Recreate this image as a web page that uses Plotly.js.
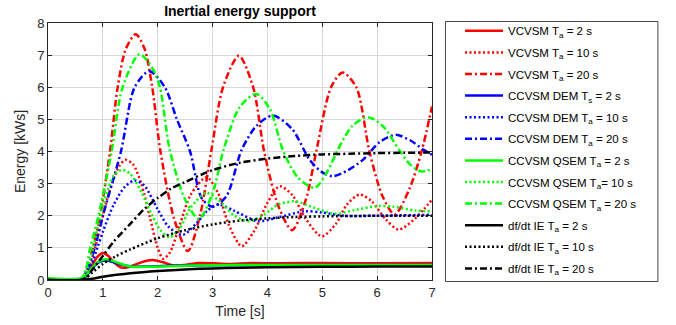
<!DOCTYPE html>
<html>
<head>
<meta charset="utf-8">
<script src="https://cdn.plot.ly/plotly-3.0.1.min.js"></script>
<style>html,body{margin:0;padding:0;background:#fff;}#chart{width:676px;height:325px;}</style>
</head>
<body>
<div id="chart"></div>
<script>
// ---- data (time in s, energy in kWs) ----
const vc2_t  = [0, 0.6, 0.7, 0.8, 0.9, 1.0, 1.1, 1.2, 1.35, 1.5, 1.7, 1.9, 2.1, 2.3, 2.5, 2.75, 3.0, 3.3, 3.7, 4.2, 5, 6, 7];
const vc2_e  = [0.02, 0.02, 0.15, 0.45, 0.72, 0.84, 0.75, 0.55, 0.38, 0.42, 0.55, 0.62, 0.55, 0.45, 0.47, 0.53, 0.52, 0.5, 0.53, 0.52, 0.53, 0.52, 0.53];
const vc10_t = [0, 0.6, 0.7, 0.8, 0.9, 1.0, 1.1, 1.2, 1.3, 1.41, 1.55, 1.7, 1.85, 2.0, 2.1, 2.22, 2.4, 2.6, 2.89, 3.1, 3.3, 3.53, 3.75, 4.0, 4.22, 4.45, 4.7, 4.99, 5.25, 5.45, 5.68, 5.9, 6.15, 6.39, 6.65, 6.85, 7.0];
const vc10_e = [0.03, 0.03, 0.2, 0.65, 1.3, 2.0, 2.65, 3.15, 3.55, 3.74, 3.6, 3.0, 2.0, 1.0, 0.66, 0.85, 1.7, 2.65, 3.2, 2.7, 1.7, 1.05, 1.5, 2.4, 2.92, 2.65, 1.9, 1.36, 1.75, 2.35, 2.66, 2.45, 1.9, 1.57, 1.85, 2.2, 2.5];
const vc20_t = [0, 0.6, 0.7, 0.82, 0.95, 1.13, 1.27, 1.42, 1.6, 1.76, 1.9, 2.05, 2.3, 2.55, 2.77, 2.98, 3.19, 3.48, 3.74, 3.94, 4.2, 4.45, 4.7, 4.89, 5.16, 5.37, 5.62, 5.86, 6.1, 6.32, 6.58, 6.81, 7.0];
const vc20_e = [0.02, 0.02, 0.3, 1.0, 2.0, 4.0, 6.0, 7.2, 7.65, 7.2, 6.0, 4.0, 1.9, 0.9, 2.0, 4.05, 6.0, 6.98, 6.0, 4.0, 2.3, 1.55, 2.5, 4.0, 6.0, 6.46, 6.0, 4.0, 2.6, 2.04, 2.8, 4.0, 5.4];

const de2_t  = [0, 0.6, 0.7, 0.8, 0.9, 1.0, 1.1, 1.25, 1.5, 1.8, 2.2, 3, 4, 5, 7];
const de2_e  = [0.02, 0.02, 0.12, 0.35, 0.52, 0.6, 0.6, 0.52, 0.42, 0.42, 0.44, 0.46, 0.47, 0.47, 0.47];
const de10_t = [0, 0.6, 0.7, 0.8, 0.9, 1.0, 1.2, 1.4, 1.58, 1.75, 2.0, 2.2, 2.45, 2.7, 2.9, 3.1, 3.4, 3.83, 4.2, 4.68, 5.0, 5.4, 6, 7];
const de10_e = [0.02, 0.02, 0.15, 0.5, 1.0, 1.5, 2.35, 2.9, 3.1, 2.95, 2.2, 1.65, 1.4, 1.75, 2.15, 2.35, 2.15, 1.83, 1.95, 2.14, 2.1, 2.0, 2.0, 2.03];
const de20_t = [0, 0.6, 0.7, 0.85, 1.0, 1.33, 1.58, 1.85, 2.13, 2.35, 2.59, 2.8, 3.0, 3.25, 3.53, 3.8, 4.1, 4.45, 4.77, 5.0, 5.19, 5.45, 5.74, 6.05, 6.34, 6.6, 6.85, 7.0];
const de20_e = [0.02, 0.02, 0.25, 1.0, 2.0, 4.0, 6.0, 6.5, 6.0, 5.0, 4.0, 2.55, 2.28, 2.6, 4.05, 4.8, 5.12, 4.7, 3.74, 3.35, 3.23, 3.4, 3.74, 4.3, 4.52, 4.35, 4.05, 3.9];

const qs2_t  = [0, 0.6, 0.7, 0.8, 0.9, 1.0, 1.1, 1.25, 1.5, 1.8, 2.2, 3, 4, 5, 7];
const qs2_e  = [0.05, 0.05, 0.15, 0.38, 0.55, 0.63, 0.64, 0.55, 0.42, 0.41, 0.43, 0.46, 0.47, 0.47, 0.47];
const qs10_t = [0, 0.6, 0.7, 0.8, 0.9, 1.0, 1.1, 1.2, 1.35, 1.5, 1.7, 1.9, 2.05, 2.22, 2.4, 2.6, 2.88, 3.1, 3.4, 3.68, 3.95, 4.2, 4.5, 4.85, 5.22, 5.6, 6.0, 6.3, 6.7, 7.0];
const qs10_e = [0.06, 0.06, 0.3, 0.85, 1.6, 2.3, 2.85, 3.25, 3.43, 3.3, 2.75, 2.0, 1.55, 1.33, 1.6, 2.25, 2.71, 2.5, 2.0, 1.83, 2.05, 2.35, 2.45, 2.25, 2.06, 2.18, 2.3, 2.28, 2.16, 2.14];
const qs20_t = [0, 0.6, 0.7, 0.77, 0.92, 1.16, 1.36, 1.67, 1.9, 2.04, 2.22, 2.5, 2.75, 3.0, 3.2, 3.5, 3.8, 4.05, 4.28, 4.55, 4.86, 5.1, 5.28, 5.55, 5.83, 6.1, 6.4, 6.6, 6.8, 7.0];
const qs20_e = [0.05, 0.05, 0.4, 1.0, 2.0, 4.0, 6.0, 7.03, 6.6, 6.0, 4.05, 2.5, 1.9, 2.7, 4.05, 5.4, 5.79, 5.3, 4.05, 3.2, 2.87, 3.4, 4.05, 4.8, 5.07, 4.8, 4.05, 3.6, 3.38, 3.45];

const ie2_t  = [0, 0.6, 0.8, 1.0, 1.25, 1.5, 2, 2.5, 3, 3.5, 4, 5, 6, 7];
const ie2_e  = [0, 0, 0.04, 0.1, 0.16, 0.21, 0.28, 0.33, 0.36, 0.38, 0.4, 0.41, 0.42, 0.42];
const ie10_t = [0, 0.6, 0.7, 0.8, 1.0, 1.25, 1.5, 2.0, 2.5, 3, 3.5, 4, 4.5, 5, 6, 7];
const ie10_e = [0, 0, 0.08, 0.22, 0.5, 0.75, 0.95, 1.3, 1.55, 1.73, 1.85, 1.92, 1.96, 1.98, 2.0, 2.0];
const ie20_t = [0, 0.6, 0.7, 0.8, 1.0, 1.2, 1.5, 1.75, 2.0, 2.25, 2.5, 3.0, 3.5, 4, 4.5, 5, 5.5, 6, 6.5, 7];
const ie20_e = [0, 0, 0.08, 0.3, 0.75, 1.2, 1.75, 2.2, 2.55, 2.85, 3.05, 3.42, 3.65, 3.78, 3.86, 3.91, 3.93, 3.95, 3.96, 3.97];

const xTicks = [0, 1, 2, 3, 4, 5, 6, 7];
const yTicks = [0, 1, 2, 3, 4, 5, 6, 7, 8];

const names = [
  'VCVSM T<sub>a</sub> = 2 s', 'VCVSM T<sub>a</sub> = 10 s', 'VCVSM T<sub>a</sub> = 20 s',
  'CCVSM DEM T<sub>s</sub> = 2 s', 'CCVSM DEM T<sub>a</sub> = 10 s', 'CCVSM DEM T<sub>a</sub> = 20 s',
  'CCVSM QSEM T<sub>a</sub> = 2 s', 'CCVSM QSEM T<sub>a</sub>= 10 s', 'CCVSM QSEM T<sub>a</sub> = 20 s',
  'df/dt IE T<sub>a</sub> = 2 s', 'df/dt IE T<sub>a</sub> = 10 s', 'df/dt IE T<sub>a</sub> = 20 s'
];
const series = [
  [vc2_t, vc2_e], [vc10_t, vc10_e], [vc20_t, vc20_e],
  [de2_t, de2_e], [de10_t, de10_e], [de20_t, de20_e],
  [qs2_t, qs2_e], [qs10_t, qs10_e], [qs20_t, qs20_e],
  [ie2_t, ie2_e], [ie10_t, ie10_e], [ie20_t, ie20_e]
];
const colors = ['#ff0000', '#0000ff', '#00ff00', '#000000'];
const dashes = ['solid', '2px,2.5px', '7px,3px,2px,3px'];

const traces = series.map((s, i) => ({
  x: s[0], y: s[1], type: 'scatter', mode: 'lines', name: names[i],
  legendgroup: 'g' + i,
  line: {color: colors[Math.floor(i / 3)], width: 2.5, dash: dashes[i % 3], shape: 'spline', smoothing: 0.8}
}));

const font = 'Liberation Sans, Arial, Helvetica, sans-serif';
const axisCommon = {
  showline: true, mirror: 'ticks', linecolor: '#262626', linewidth: 1,
  ticks: 'inside', ticklen: 4, tickwidth: 1, tickcolor: '#262626',
  showgrid: true, gridcolor: '#d9d9d9', gridwidth: 1, zeroline: false,
  tickfont: {family: font, size: 13, color: '#262626'}
};

const layout = {
  width: 676, height: 325,
  margin: {l: 47.5, r: 243.5, t: 22.5, b: 44.5},
  paper_bgcolor: '#ffffff', plot_bgcolor: '#ffffff',
  title: {text: '<b>Inertial energy support</b>', font: {family: font, size: 14, color: '#000'}, x: 0.355, xanchor: 'center', y: 0.965, yanchor: 'middle'},
  xaxis: Object.assign({}, axisCommon, {range: [0, 7], tickvals: xTicks, ticktext: xTicks.map(String),
    title: {text: 'Time [s]', font: {family: font, size: 14, color: '#262626'}, standoff: 7}}),
  yaxis: Object.assign({}, axisCommon, {range: [0, 8], tickvals: yTicks, ticktext: yTicks.map(String),
    title: {text: 'Energy [kWs]', font: {family: font, size: 14, color: '#262626'}, standoff: 8}}),
  showlegend: true,
  legend: {x: 1.073, xanchor: 'left', y: 1.026, yanchor: 'top', bgcolor: 'rgba(0,0,0,0)', borderwidth: 0,
    font: {family: font, size: 11.5, color: '#000'}, itemwidth: 38, tracegroupgap: 2.6, traceorder: 'grouped',
    maxheight: 320},
  shapes: [{type: 'rect', xref: 'paper', yref: 'paper', x0: 398.5 / 385, x1: 611.5 / 385, y0: -1.5 / 258, y1: 259.5 / 258,
    line: {color: '#444', width: 1}, fillcolor: 'rgba(0,0,0,0)'}]
};

Plotly.newPlot('chart', traces, layout, {staticPlot: true, displayModeBar: false});
</script>
</body>
</html>
